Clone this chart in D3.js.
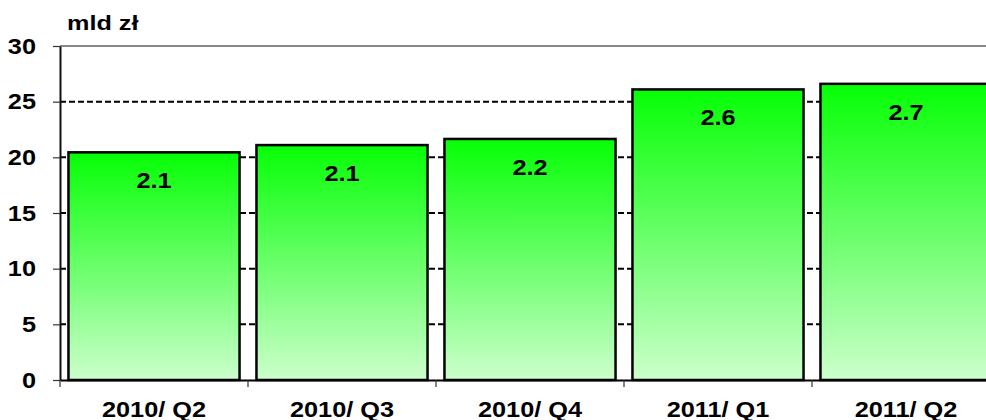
<!DOCTYPE html>
<html>
<head>
<meta charset="utf-8">
<script src="https://cdn.jsdelivr.net/npm/d3@7"></script>
<style>
  html, body { margin: 0; padding: 0; background: #fff; overflow: hidden; }
  svg { display: block; font-family: Arial, "Liberation Sans", sans-serif; font-weight: bold; }
</style>
</head>
<body>
<svg id="chart" width="986" height="420"></svg>
<script>
// chart data
var categories = ["2010/ Q2", "2010/ Q3", "2010/ Q4", "2011/ Q1", "2011/ Q2"];
var values = [20.45, 21.1, 21.65, 26.1, 26.6];
var barLabels = ["2.1", "2.1", "2.2", "2.6", "2.7"];
var yTicks = [0, 5, 10, 15, 20, 25, 30];
var unitLabel = "mld zł";

var margin = { top: 46, left: 60 };
var plotRight = 1000; // plot area runs slightly past the window
var plotBottom = 380;
var stretch = 1.15; // text in the source is a bit wide

var svg = d3.select("#chart");

var x = d3.scaleBand()
  .domain(categories)
  .range([margin.left, plotRight])
  .paddingInner(0.09)
  .paddingOuter(0.045);

var y = d3.scaleLinear()
  .domain([0, 30])
  .range([plotBottom, margin.top]);

// per-bar gradient, bright green on top to pale green at the base
var grad = svg.append("defs").append("linearGradient")
  .attr("id", "barFill")
  .attr("x1", "0").attr("y1", "0").attr("x2", "0").attr("y2", "1");
grad.append("stop").attr("offset", "0%").attr("stop-color", "#06ff06");
grad.append("stop").attr("offset", "100%").attr("stop-color", "#ccffcc");

// dashed gridlines (behind the bars)
svg.append("g").selectAll("line")
  .data(yTicks.filter(d => d > 0 && d < 30))
  .enter().append("line")
  .attr("x1", margin.left).attr("x2", plotRight)
  .attr("y1", d => y(d)).attr("y2", d => y(d))
  .attr("stroke", "#000")
  .attr("stroke-width", 2)
  .attr("stroke-dasharray", "6,3");

// top border of plot area
svg.append("line")
  .attr("x1", margin.left).attr("x2", plotRight)
  .attr("y1", y(30)).attr("y2", y(30))
  .attr("stroke", "#888")
  .attr("stroke-width", 2);

// bars
svg.append("g").selectAll("rect")
  .data(values)
  .enter().append("rect")
  .attr("x", (d, i) => x(categories[i]))
  .attr("y", d => y(d))
  .attr("width", x.bandwidth())
  .attr("height", d => y(0) - y(d))
  .attr("fill", "url(#barFill)")
  .attr("stroke", "#000")
  .attr("stroke-width", 2.5);

// value labels inside bars
svg.append("g").selectAll("text")
  .data(barLabels)
  .enter().append("text")
  .attr("text-anchor", "middle")
  .attr("font-size", 22)
  .attr("transform", (d, i) =>
    `translate(${x(categories[i]) + x.bandwidth() / 2},${y(values[i]) + 36}) scale(${stretch},1)`)
  .text(d => d);

function widen(sel) {
  sel.selectAll("text").each(function() {
    var t = d3.select(this);
    var tx = +t.attr("x") || 0;
    var ty = +t.attr("y") || 0;
    t.attr("x", 0).attr("y", 0)
      .attr("transform", `translate(${tx},${ty}) scale(${stretch},1)`);
  });
}

// y axis
var yAxisG = svg.append("g")
  .attr("transform", `translate(${margin.left},0)`)
  .call(d3.axisLeft(y).tickValues(yTicks).tickSize(7).tickPadding(17).tickSizeOuter(0));
yAxisG.select(".domain").attr("stroke", "#111").attr("stroke-width", 2);
yAxisG.selectAll(".tick line").attr("stroke", "#333").attr("stroke-width", 1.2);
yAxisG.selectAll("text")
  .attr("font-size", 22).attr("font-weight", "bold")
  .attr("font-family", "Arial, 'Liberation Sans', sans-serif")
  .attr("fill", "#000");
widen(yAxisG);

// x axis: labels from the band scale, ticks at category boundaries
var xAxisG = svg.append("g")
  .attr("transform", `translate(0,${plotBottom})`)
  .call(d3.axisBottom(x).tickSize(0).tickPadding(21).tickSizeOuter(0));
xAxisG.select(".domain").attr("stroke", "#000").attr("stroke-width", 2);
xAxisG.selectAll("text")
  .attr("font-size", 22).attr("font-weight", "bold")
  .attr("font-family", "Arial, 'Liberation Sans', sans-serif")
  .attr("fill", "#000");
widen(xAxisG);

var step = x.step();
xAxisG.append("g").selectAll("line")
  .data(categories)
  .enter().append("line")
  .attr("x1", d => x(d) - step * x.paddingInner() / 2)
  .attr("x2", d => x(d) - step * x.paddingInner() / 2)
  .attr("y1", 0).attr("y2", 7)
  .attr("stroke", "#333")
  .attr("stroke-width", 1.2);

// unit label
svg.append("text")
  .attr("font-size", 21)
  .attr("transform", "translate(67,30) scale(1.2,1)")
  .text(unitLabel);
</script>
</body>
</html>
